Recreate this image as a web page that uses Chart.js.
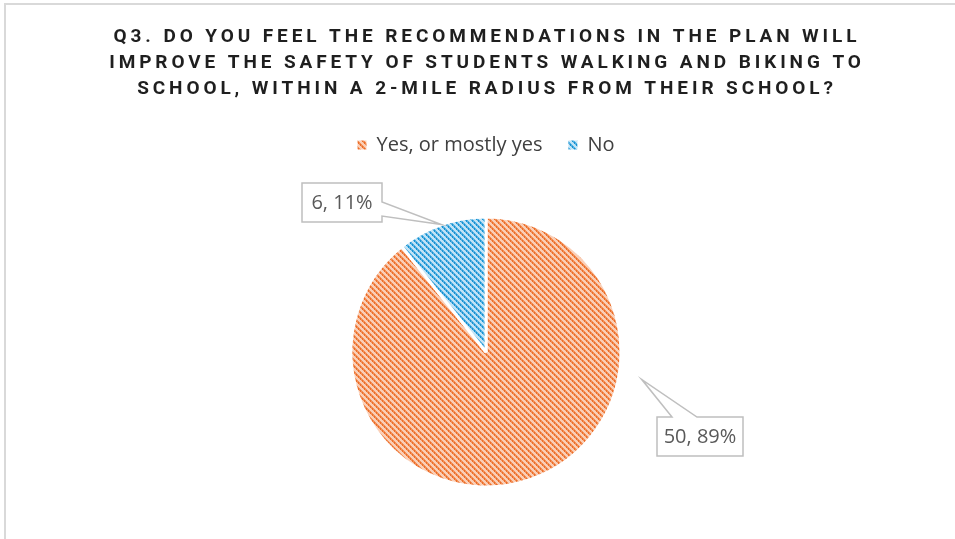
<!DOCTYPE html>
<html>
<head>
<meta charset="utf-8">
<script src="https://cdn.jsdelivr.net/npm/chart.js@4.4.1/dist/chart.umd.min.js"></script>
<style>
    html, body { margin: 0; padding: 0; background: #fff; overflow: hidden; }
    #wrap { position: absolute; left: 0; top: 0; width: 955px; height: 539px; }
    #frame { position: absolute; left: 4px; top: 3px; width: 1000px; height: 600px;
             border-left: 2px solid #d9d9d9; border-top: 2px solid #d9d9d9; }
</style>
</head>
<body>
<div id="wrap">
    <div id="frame"></div>
    <canvas id="surveyChart" width="955" height="539"></canvas>
</div>
<script>
const titleLines = [
    'Q3. DO YOU FEEL THE RECOMMENDATIONS IN THE PLAN WILL',
    'IMPROVE THE SAFETY OF STUDENTS WALKING AND BIKING TO',
    'SCHOOL, WITHIN A 2-MILE RADIUS FROM THEIR SCHOOL?'
];
const answers = ['Yes, or mostly yes', 'No'];
const counts = [50, 6];

// small hatched tiles like the Excel "dotted diagonal" fill
function makePattern(dark, mid, light) {
    const tile = document.createElement('canvas');
    tile.width = 6;
    tile.height = 6;
    const t = tile.getContext('2d');
    t.fillStyle = light;
    t.fillRect(0, 0, 6, 6);
    for (let i = 0; i < 6; i++) {
        t.fillStyle = mid;
        t.fillRect((i + 1) % 6, i, 1, 1);
        t.fillStyle = i % 2 === 0 ? dark : mid;
        t.fillRect(i, i, 1, 1);
        t.fillStyle = i % 2 === 0 ? mid : dark;
        t.fillRect((i + 5) % 6, i, 1, 1);
    }
    return document.getElementById('surveyChart').getContext('2d').createPattern(tile, 'repeat');
}

const orangeFill = makePattern('#EC6E28', '#F28F58', '#FACFB7');
const blueFill = makePattern('#1592D2', '#55B1E2', '#C2E3F5');

// Title with letter spacing
const titlePlugin = {
    id: 'spacedTitle',
    afterDraw(chart) {
        const ctx = chart.ctx;
        ctx.save();
        ctx.font = 'bold 19px Roboto';
        ctx.fillStyle = '#1f1f1f';
        ctx.textAlign = 'center';
        ctx.textBaseline = 'middle';
        ctx.letterSpacing = '3.9px';
        titleLines.forEach((line, i) => {
            ctx.fillText(line, 487, 37 + i * 26);
        });
        ctx.restore();
    }
};

// Callout boxes with a tail pointing at the slice
const calloutPlugin = {
    id: 'callouts',
    afterDatasetsDraw(chart, args, opts) {
        const ctx = chart.ctx;
        const meta = chart.getDatasetMeta(0);
        const total = counts.reduce((a, b) => a + b, 0);
        opts.items.forEach((item, i) => {
            const arc = meta.data[i];
            const ang = arc.startAngle + (arc.endAngle - arc.startAngle) * item.at;
            const tipX = arc.x + Math.cos(ang) * (arc.outerRadius + item.gap);
            const tipY = arc.y + Math.sin(ang) * (arc.outerRadius + item.gap);
            const left = arc.x + item.dx;
            const top = arc.y + item.dy;
            const right = left + item.w;
            const bottom = top + item.h;

            ctx.save();
            ctx.beginPath();
            ctx.moveTo(left, top);
            if (item.side === 'top') {
                ctx.lineTo(left + item.b1, top);
                ctx.lineTo(tipX, tipY);
                ctx.lineTo(left + item.b2, top);
            }
            ctx.lineTo(right, top);
            if (item.side === 'right') {
                ctx.lineTo(right, top + item.b1);
                ctx.lineTo(tipX, tipY);
                ctx.lineTo(right, top + item.b2);
            }
            ctx.lineTo(right, bottom);
            ctx.lineTo(left, bottom);
            ctx.closePath();
            ctx.fillStyle = '#ffffff';
            ctx.fill();
            ctx.lineWidth = 1.5;
            ctx.strokeStyle = '#BFBFBF';
            ctx.stroke();

            const pct = Math.round(counts[i] / total * 100);
            ctx.font = '20px "Open Sans"';
            ctx.fillStyle = '#595959';
            ctx.textAlign = 'center';
            ctx.textBaseline = 'middle';
            ctx.fillText(`${counts[i]}, ${pct}%`, (left + right) / 2, (top + bottom) / 2 + 1);
            ctx.restore();
        });
    }
};

const ctx = document.getElementById('surveyChart').getContext('2d');
const surveyChart = new Chart(ctx, {
    type: 'pie',
    data: {
        labels: answers,
        datasets: [{
            data: counts,
            backgroundColor: [orangeFill, blueFill],
            borderColor: '#ffffff',
            borderWidth: 3,
            radius: 135
        }]
    },
    plugins: [titlePlugin, calloutPlugin],
    options: {
        responsive: false,
        animation: false,
        layout: {
            padding: { top: 109, bottom: -8, left: 17, right: 0 }
        },
        plugins: {
            title: { display: false },
            tooltip: { enabled: false },
            legend: {
                position: 'top',
                labels: {
                    boxWidth: 9,
                    boxHeight: 9,
                    padding: 26,
                    color: '#404040',
                    font: { family: '"Open Sans"', size: 20 },
                    generateLabels(chart) {
                        const items = Chart.overrides.pie.plugins.legend.labels.generateLabels(chart);
                        items.forEach(it => { it.lineWidth = 0; });
                        return items;
                    }
                }
            },
            callouts: {
                items: [
                    { at: 0.311, gap: 23, dx: 171, dy: 65, w: 86, h: 39, side: 'top', b1: 15, b2: 40 },
                    { at: 0.5, gap: 0, dx: -184, dy: -169, w: 80, h: 39, side: 'right', b1: 19, b2: 33 }
                ]
            }
        }
    }
});
</script>
</body>
</html>
